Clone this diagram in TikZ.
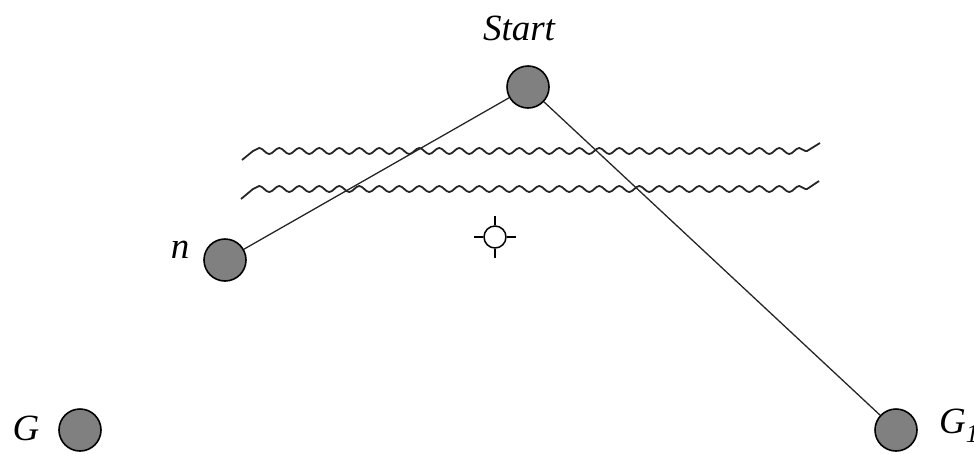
\documentclass[tikz,border=0pt]{standalone}
\usepackage{fontspec}
\setmainfont{Liberation Serif}
\usetikzlibrary{decorations.pathmorphing}
\begin{document}
\begin{tikzpicture}[x=1pt,y=-1pt,
  dot/.style={circle,draw=black,line width=1.6pt,fill=black!50,minimum size=42pt,inner sep=0pt},
  lbl/.style={font=\fontsize{37}{40}\selectfont\itshape},
  conn/.style={line width=1.3pt,black!85},
  wave/.style={line width=1.8pt,black!85},
  snk/.style={decoration={snake,segment length=20pt,amplitude=3pt}}]
\useasboundingbox (0,0) rectangle (974,453);
\node[dot] (start) at (528,87) {};
\node[lbl] (startlbl) at (519,28) {Start};
\node[dot] (n) at (225,260) {};
\node[lbl,anchor=east] (nlbl) at (193,250) {n};
\node[dot] (g) at (80,430) {};
\node[lbl,anchor=east] (glbl) at (43,428) {G};
\node[dot] (g2) at (896,430) {};
\node[lbl,anchor=west,inner sep=0pt] (g2lbl) at (939,426) {G\textsubscript{1}};
% target marker
\node[circle,draw=black,line width=1.5pt,minimum size=22pt,inner sep=0pt] (tgt) at (495,237) {};
\draw[line width=1.5pt] (tgt.north) -- ++(0,-9) (tgt.south) -- ++(0,9)
  (tgt.west) -- ++(-9,0) (tgt.east) -- ++(9,0);
% wavy barriers
\draw[wave] (242,160) -- (253,151) decorate[snk]{-- (807,151)} -- (820,143);
\draw[wave] (241,199) -- (253,189) decorate[snk]{-- (807,189)} -- (819,181);
% connectors
\draw[conn] (start) -- (n);
\draw[conn] (start) -- (g2);
\end{tikzpicture}
\end{document}
